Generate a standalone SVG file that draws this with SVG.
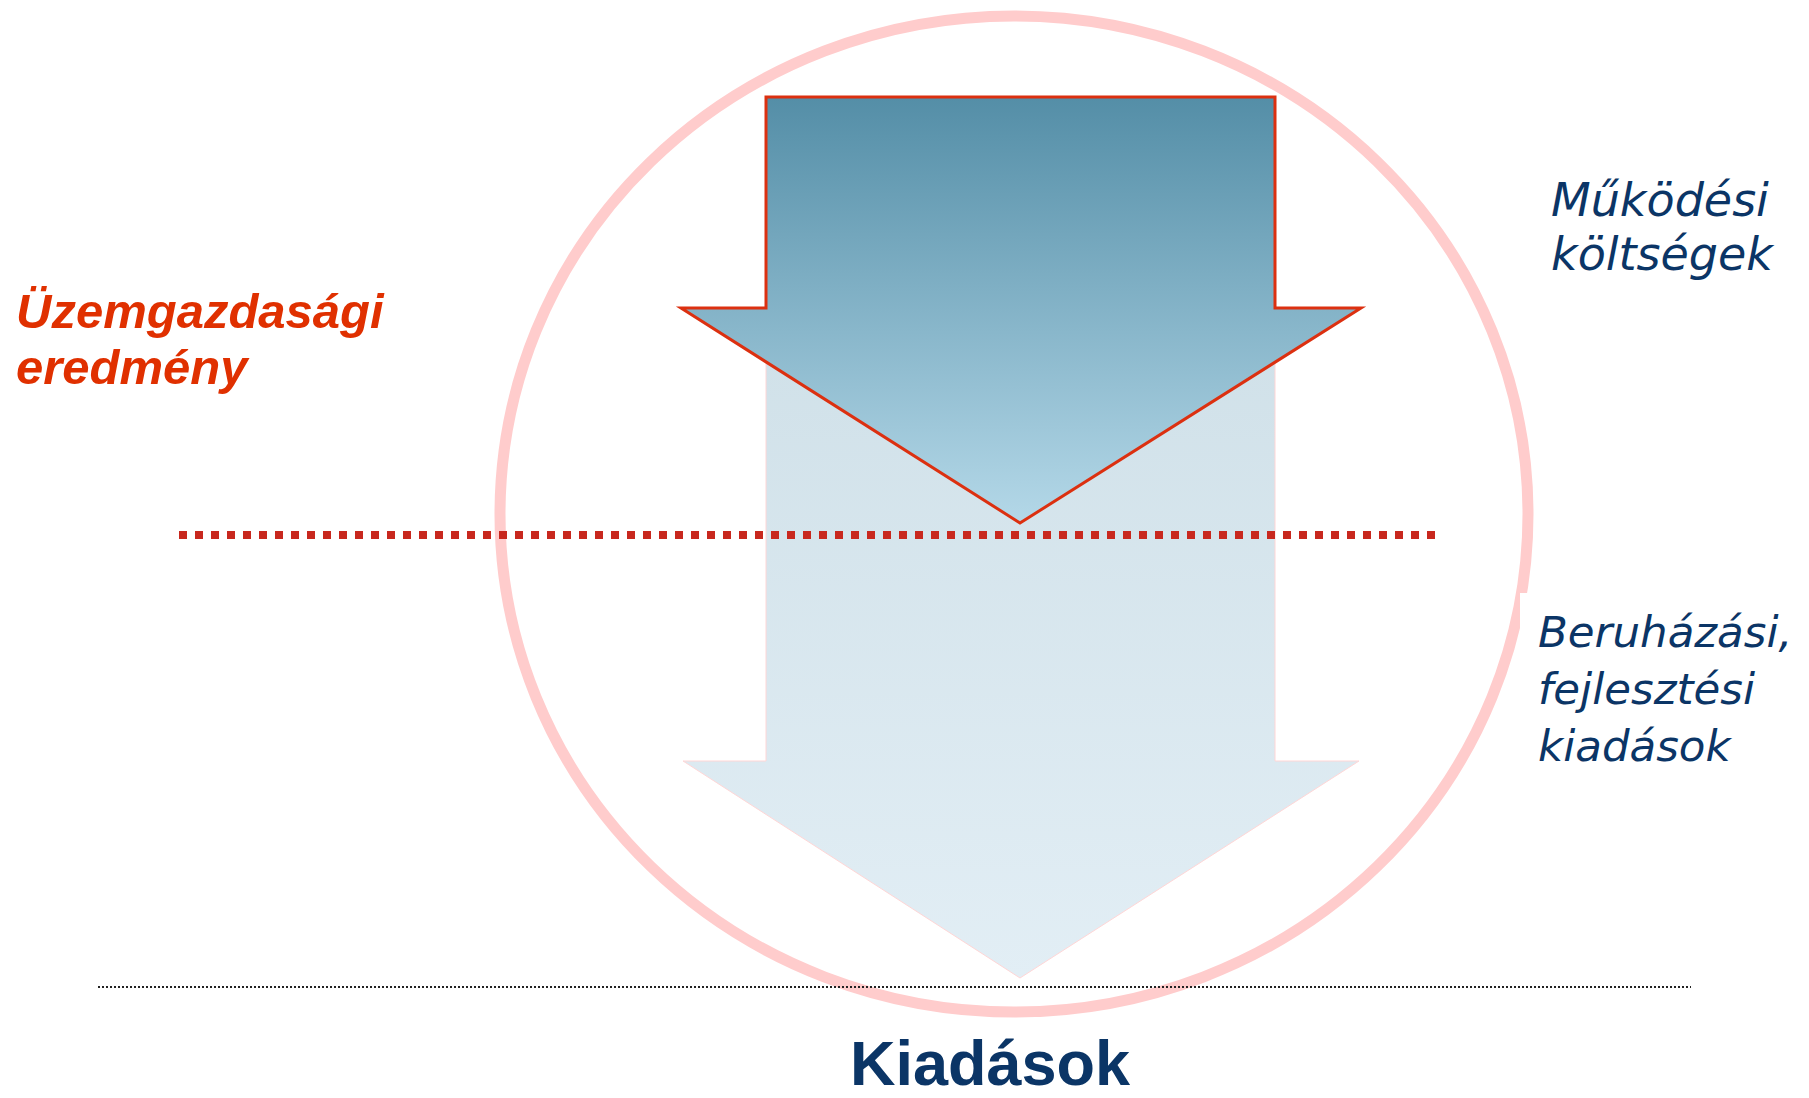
<svg xmlns="http://www.w3.org/2000/svg" width="1809" height="1098" viewBox="0 0 1809 1098">
<defs>
<linearGradient id="gTop" x1="0" y1="0" x2="0" y2="1">
<stop offset="0" stop-color="#548ea7"/>
<stop offset="1" stop-color="#b4d8e8"/>
</linearGradient>
<linearGradient id="gBot" x1="0" y1="0" x2="0" y2="1">
<stop offset="0" stop-color="#cfe0e8"/>
<stop offset="1" stop-color="#e2eef5"/>
</linearGradient>
<style>
.nav{font-family:"DejaVu Sans",sans-serif;font-style:italic;fill:#0b3566}
.red{font-family:"Liberation Sans",Arial,sans-serif;font-style:italic;font-weight:bold;fill:#e03000;font-size:49px}
.ttl{font-family:"Liberation Sans",Arial,sans-serif;font-weight:bold;fill:#0b3566;font-size:63px}
</style>
</defs>
<rect width="1809" height="1098" fill="#ffffff"/>
<g id="circle">
<ellipse cx="1014" cy="514" rx="514" ry="498" fill="none" stroke="#ffcccc" stroke-width="11"/>
</g>
<g id="bottom-arrow">
<polygon points="766,300 1275,300 1275,761 1359,761 1020,978 683,761 766,761" fill="url(#gBot)" stroke="#ffd6d6" stroke-width="1"/>
</g>
<g id="top-arrow">
<polygon points="766,97 1275,97 1275,308 1361,308 1020,523 681,308 766,308" fill="url(#gTop)" stroke="#dc3010" stroke-width="3" stroke-linejoin="miter"/>
</g>
<g id="connectors">
<line x1="179" y1="535" x2="1436" y2="535" stroke="#c8281e" stroke-width="8" stroke-dasharray="8 8"/>
<line x1="98" y1="987" x2="1691" y2="987" stroke="#222222" stroke-width="2" stroke-dasharray="2 2"/>
</g>
<g id="label-uzem">
<text class="red" x="16" y="328">Üzemgazdasági</text>
<text class="red" x="16" y="384">eredmény</text>
</g>
<g id="label-mukodesi">
<text class="nav" font-size="46" x="1551" y="216">Működési</text>
<text class="nav" font-size="46" x="1551" y="270">költségek</text>
</g>
<g id="label-beruhazasi">
<rect x="1520" y="593" width="289" height="190" fill="#ffffff"/>
<text class="nav" font-size="43.5" x="1538" y="647">Beruházási,</text>
<text class="nav" font-size="43.5" x="1538" y="704">fejlesztési</text>
<text class="nav" font-size="43.5" x="1538" y="761">kiadások</text>
</g>
<g id="label-kiadasok">
<text class="ttl" x="990" y="1085" text-anchor="middle">Kiadások</text>
</g>
</svg>
